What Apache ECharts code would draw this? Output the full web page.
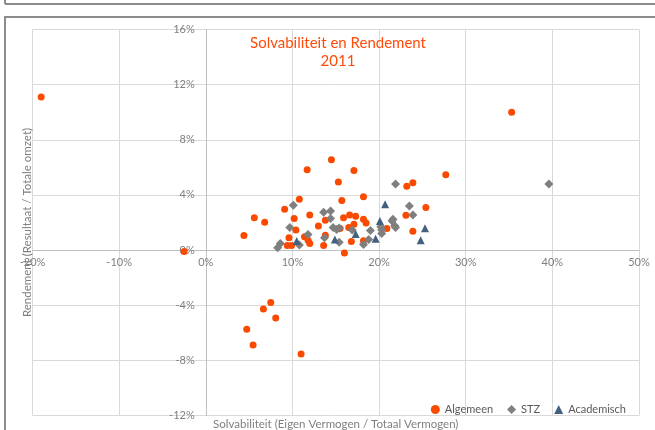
<!DOCTYPE html>
<html>
<head>
<meta charset="utf-8">
<script src="https://cdn.jsdelivr.net/npm/echarts@6/dist/echarts.min.js"></script>
<style>
  html, body { margin: 0; padding: 0; background: #fff; }
  #chart { width: 655px; height: 430px; }
</style>
</head>
<body>
<div id="chart"></div>
<script>
// Solvabiliteit (x, %) en Rendement (y, %) per ziekenhuis
const algemeen = [
  [-19.0, 11.1], [-2.5, -0.1], [35.3, 10.0], [14.5, 6.56], [11.7, 5.83], [17.1, 5.78],
  [15.3, 4.94], [15.7, 3.59], [18.2, 3.86], [10.8, 3.69], [9.1, 2.96], [5.6, 2.34],
  [6.8, 2.02], [4.4, 1.06], [10.2, 2.29], [12.0, 2.55], [10.4, 1.45], [9.6, 0.89],
  [9.4, 0.34], [9.9, 0.34], [11.4, 0.96], [11.8, 0.72], [12.0, 0.48], [13.0, 1.74],
  [13.8, 2.17], [13.8, 1.08], [13.6, 0.34], [15.9, 2.34], [16.6, 2.55], [17.3, 2.46],
  [16.5, 1.64], [17.1, 1.88], [15.5, 1.57], [16.8, 0.63], [16.0, -0.22], [18.2, 2.24],
  [18.5, 1.97], [18.2, 0.67], [20.9, 1.57], [27.7, 5.47], [23.9, 4.89], [23.2, 4.63],
  [25.4, 3.09], [23.1, 2.53], [23.9, 1.37], [7.5, -3.81], [6.65, -4.27], [8.07, -4.92],
  [4.73, -5.74], [5.46, -6.89], [11.0, -7.54]
]
const stz = [
  [10.1, 3.25], [21.9, 4.80], [13.6, 2.75], [14.4, 2.84], [14.4, 2.29], [9.7, 1.64],
  [11.8, 1.13], [8.6, 0.48], [8.3, 0.17], [10.8, 0.36], [13.7, 0.89], [14.7, 1.64],
  [15.1, 1.50], [15.4, 1.61], [15.4, 0.56], [16.9, 1.45], [19.0, 1.42], [18.8, 0.77],
  [18.2, 0.41], [20.2, 1.69], [20.3, 1.21], [21.6, 2.24], [21.8, 1.76], [39.6, 4.80],
  [23.5, 3.20], [23.9, 2.55], [21.5, 2.10], [21.9, 1.64], [20.3, 1.45]
]
const academisch = [
  [20.7, 3.33], [20.1, 2.10], [19.6, 0.82], [17.3, 1.16], [14.9, 0.77], [10.5, 0.65],
  [25.3, 1.59], [24.8, 0.72]
]

const chart = echarts.init(document.getElementById('chart'))
const font = 'Lato, "Open Sans", sans-serif'
const labelColor = '#7f7f7f'

// grid in pixels; the axes sit on the zero lines
const gridL = 32.5, gridR = 16, gridT = 29.5, gridB = 14.5
const gridW = 655 - gridL - gridR
const gridH = 430 - gridT - gridB
const yOffset = -gridW * 20 / 70   // x = 0 lies 20/70 from the left
const xOffset = -gridH * 12 / 28   // y = 0 lies 12/28 from the bottom

const option = {
  animation: false,
  textStyle: { fontFamily: font },
  title: {
    text: 'Solvabiliteit en Rendement\n2011',
    left: 333,
    top: 29,
    textAlign: 'center',
    textStyle: { color: '#ff4a0a', fontSize: 15, fontWeight: 'normal', lineHeight: 18, fontFamily: font }
  },
  legend: {
    right: 24,
    top: 399,
    itemWidth: 9,
    itemHeight: 9,
    itemGap: 14,
    textStyle: { color: '#595959', fontSize: 11, fontFamily: font },
    data: ['Algemeen', 'STZ', 'Academisch']
  },
  grid: { left: gridL, right: gridR, top: gridT, bottom: gridB, outerBoundsMode: 'none', containLabel: false },
  xAxis: {
    type: 'value',
    min: -20,
    max: 50,
    interval: 10,
    offset: xOffset,
    name: 'Solvabiliteit (Eigen Vermogen / Totaal Vermogen)',
    nameLocation: 'middle',
    nameGap: 168,
    nameTextStyle: { color: '#7f7f7f', fontSize: 11.5 },
    axisLine: { onZero: false, lineStyle: { color: '#bfbfbf' } },
    axisTick: { show: false },
    axisLabel: { formatter: '{value}%', color: labelColor, fontSize: 11, margin: 7 },
    splitLine: { lineStyle: { color: '#d9d9d9' } }
  },
  yAxis: {
    type: 'value',
    min: -12,
    max: 16,
    interval: 4,
    offset: yOffset,
    name: 'Rendement (Resultaat / Totale omzet)',
    nameLocation: 'middle',
    nameGap: 172,
    nameTextStyle: { color: '#7f7f7f', fontSize: 11.5 },
    axisLine: { onZero: false, lineStyle: { color: '#bfbfbf' } },
    axisTick: { show: false },
    axisLabel: { formatter: '{value}%', color: labelColor, fontSize: 11, margin: 11 },
    splitLine: { lineStyle: { color: '#d9d9d9' } }
  },
  series: [
    {
      name: 'Algemeen',
      type: 'scatter',
      symbol: 'circle',
      symbolSize: 7,
      itemStyle: { color: '#fa4a00', opacity: 1 },
      data: algemeen
    },
    {
      name: 'STZ',
      type: 'scatter',
      symbol: 'diamond',
      symbolSize: 9,
      itemStyle: { color: '#7f7f7f', opacity: 1 },
      data: stz
    },
    {
      name: 'Academisch',
      type: 'scatter',
      symbol: 'triangle',
      symbolSize: 8,
      itemStyle: { color: '#44607f', opacity: 1 },
      data: academisch
    }
  ],
  graphic: [
    // kaders van de omliggende vakken
    { type: 'line', shape: { x1: 5, y1: 4, x2: 655, y2: 4 }, style: { stroke: '#8c8c8c', lineWidth: 2 } },
    { type: 'line', shape: { x1: 5, y1: 0, x2: 5, y2: 4 }, style: { stroke: '#8c8c8c', lineWidth: 2 } },
    { type: 'line', shape: { x1: 4, y1: 17, x2: 655, y2: 17 }, style: { stroke: '#8c8c8c', lineWidth: 2 } },
    { type: 'line', shape: { x1: 5, y1: 17, x2: 5, y2: 430 }, style: { stroke: '#8c8c8c', lineWidth: 2 } }
  ]
}
chart.setOption(option)
</script>
</body>
</html>
